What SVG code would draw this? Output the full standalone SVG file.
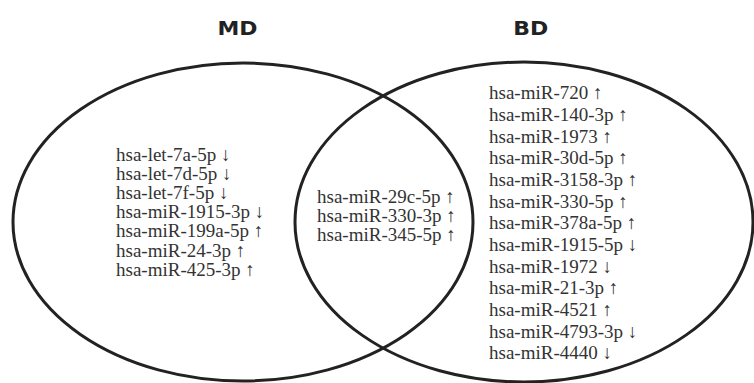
<svg xmlns="http://www.w3.org/2000/svg" width="754" height="383" viewBox="0 0 754 383">
<style>
.set{fill:none;stroke:#222;stroke-width:3}
.title{font-family:"DejaVu Sans","Liberation Sans",sans-serif;font-weight:bold;font-size:19.5px;fill:#222}
.lbl{font-family:"Liberation Serif","DejaVu Serif",serif;font-size:19px;fill:#333}
</style>
<rect width="754" height="383" fill="#fff"/>
<g id="MD">
<ellipse class="set" cx="243" cy="222" rx="230" ry="159"/>
<text class="title" x="217.5" y="35" textLength="40" lengthAdjust="spacingAndGlyphs">MD</text>
<text class="lbl" x="116">
<tspan x="116" y="160.5">hsa-let-7a-5p ↓</tspan>
<tspan x="116" y="179.7">hsa-let-7d-5p ↓</tspan>
<tspan x="116" y="198.9">hsa-let-7f-5p ↓</tspan>
<tspan x="116" y="218.1">hsa-miR-1915-3p ↓</tspan>
<tspan x="116" y="237.3">hsa-miR-199a-5p ↑</tspan>
<tspan x="116" y="256.5">hsa-miR-24-3p ↑</tspan>
<tspan x="116" y="275.7">hsa-miR-425-3p ↑</tspan>
</text>
</g>
<g id="BD">
<ellipse class="set" cx="524" cy="222" rx="229" ry="160"/>
<text class="title" x="513.3" y="35" textLength="35" lengthAdjust="spacingAndGlyphs">BD</text>
<text class="lbl">
<tspan x="489" y="99.3">hsa-miR-720 ↑</tspan>
<tspan x="489" y="121">hsa-miR-140-3p ↑</tspan>
<tspan x="489" y="142.6">hsa-miR-1973 ↑</tspan>
<tspan x="489" y="164.3">hsa-miR-30d-5p ↑</tspan>
<tspan x="489" y="186">hsa-miR-3158-3p ↑</tspan>
<tspan x="489" y="207.6">hsa-miR-330-5p ↑</tspan>
<tspan x="489" y="229.3">hsa-miR-378a-5p ↑</tspan>
<tspan x="489" y="251">hsa-miR-1915-5p ↓</tspan>
<tspan x="489" y="272.6">hsa-miR-1972 ↓</tspan>
<tspan x="489" y="294.3">hsa-miR-21-3p ↑</tspan>
<tspan x="489" y="316">hsa-miR-4521 ↑</tspan>
<tspan x="489" y="337.6">hsa-miR-4793-3p ↓</tspan>
<tspan x="489" y="359.3">hsa-miR-4440 ↓</tspan>
</text>
</g>
<g id="MD_BD">
<text class="lbl">
<tspan x="317" y="202.7">hsa-miR-29c-5p ↑</tspan>
<tspan x="317" y="221.7">hsa-miR-330-3p ↑</tspan>
<tspan x="317" y="240.7">hsa-miR-345-5p ↑</tspan>
</text>
</g>
<g id="connectors"></g>
</svg>
